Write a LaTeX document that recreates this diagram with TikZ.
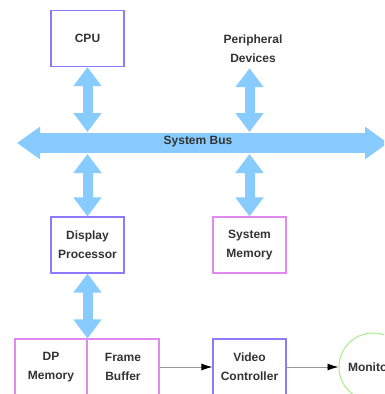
\documentclass[tikz,border=0pt]{standalone}
\usepackage{fontspec}
\setmainfont{Liberation Sans}
\usetikzlibrary{arrows.meta}
\definecolor{arrblue}{HTML}{88CCFF}
\definecolor{boxblue}{HTML}{8A7BFF}
\definecolor{boxpink}{HTML}{E08AF0}
\definecolor{mongreen}{HTML}{A8EE88}
\definecolor{txt}{HTML}{333333}
\begin{document}
\begin{tikzpicture}[x=1pt,y=-1pt,
  every node/.style={font=\fontsize{12}{19}\selectfont\bfseries, text=txt, align=center},
  unit/.style={draw=#1, line width=1.2pt, minimum width=73pt, minimum height=56pt, inner sep=0pt},
  vbus/.style={draw=arrblue, line width=10pt, {Triangle[length=19pt,width=27pt]}-{Triangle[length=19pt,width=27pt]}},
  mainbus/.style={draw=arrblue, line width=20pt, {Triangle[length=23pt,width=31pt]}-{Triangle[length=23pt,width=31pt]}},
  conn/.style={draw=gray!80, line width=0.8pt, -{Latex[length=11pt,width=7pt,black]}}
]
\useasboundingbox (0,0) rectangle (384,394);
\clip (0,0) rectangle (384,394);
\fill[white] (0,0) rectangle (384,394);

% bus
\coordinate (busL) at (17,143);
\coordinate (busR) at (388,143);
\coordinate (bt) at (0,132);
\coordinate (bb) at (0,154);
\draw[mainbus] (busL) -- (busR);
\node (buslabel) at (198,142) {System Bus};

% units
\node[unit=boxblue] (cpu) at (87.5,38.5) {CPU};
\node[minimum height=38pt, inner sep=0pt] (periph) at (253,49) {Peripheral\\Devices};
\node[unit=boxblue] (disp) at (87.5,245) {Display\\Processor};
\node[unit=boxpink] (sysmem) at (249.5,245) {System\\Memory};
\node[unit=boxpink, minimum width=72pt] (dpmem) at (51,367) {DP\\Memory};
\node[unit=boxpink, minimum width=72pt] (frame) at (123,367) {Frame\\Buffer};
\node[unit=boxblue] (video) at (249.5,367) {Video\\Controller};
\node[draw=mongreen, line width=1pt, circle, minimum size=68pt, inner sep=0pt,
      label={[anchor=west, xshift=6pt]west:Monitor}] (mon) at (373,367) {};

% bus arrows
\draw[vbus] (cpu.south) -- (cpu.south |- bt);
\draw[vbus] (cpu.south |- bb) -- (disp.north);
\draw[vbus] (sysmem.north |- periph.south) -- (sysmem.north |- bt);
\draw[vbus] (sysmem.north |- bb) -- (sysmem.north);
\draw[vbus] (disp.south) -- (disp.south |- frame.north);

% signal arrows
\draw[conn] (frame.east) -- (video.west);
\draw[conn] (video.east) -- (mon.west);
\end{tikzpicture}
\end{document}
